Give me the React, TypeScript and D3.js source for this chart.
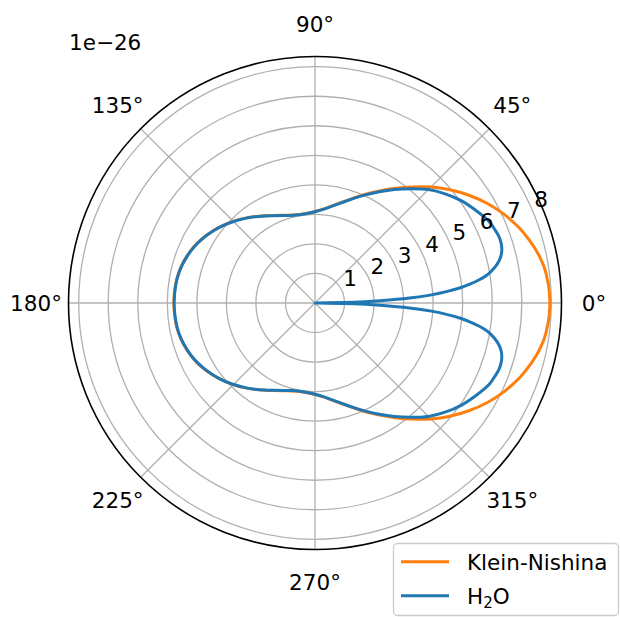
import { useEffect, useRef } from "react";
import * as d3 from "d3";

// scattering angle in degrees (the lower half is the mirror image)
const angles = [
  0, 1, 2, 3, 4, 5, 6, 7, 8, 9, 10, 12, 14, 16, 18, 20, 22, 25, 30, 35, 40, 45,
  50, 55, 60, 65, 70, 75, 80, 85, 90, 95, 100, 105, 110, 115, 120, 125, 130,
  135, 140, 145, 150, 155, 160, 165, 170, 175, 180,
];

// differential cross section, units of 1e-26
const kleinNishina = [
  7.95, 7.95, 7.94, 7.94, 7.93, 7.92, 7.9, 7.89, 7.87, 7.85, 7.82, 7.75, 7.67,
  7.58, 7.48, 7.38, 7.26, 7.08, 6.74, 6.36, 5.96, 5.55, 5.13, 4.74, 4.38, 4.06,
  3.77, 3.53, 3.34, 3.19, 3.1, 3.05, 3.04, 3.08, 3.16, 3.27, 3.41, 3.57, 3.74,
  3.91, 4.08, 4.24, 4.39, 4.52, 4.62, 4.7, 4.75, 4.77, 4.78,
];

const water = [
  0, 1.3, 2.2, 3.2, 3.95, 4.5, 4.95, 5.3, 5.6, 5.85, 6.03, 6.3, 6.48, 6.58,
  6.62, 6.62, 6.58, 6.51, 6.28, 6.04, 5.75, 5.43, 5.05, 4.69, 4.35, 4.04, 3.76,
  3.52, 3.33, 3.18, 3.09, 3.04, 3.03, 3.07, 3.15, 3.26, 3.4, 3.56, 3.73, 3.9,
  4.07, 4.23, 4.38, 4.51, 4.61, 4.69, 4.74, 4.76, 4.77,
];

const radialTicks = [1, 2, 3, 4, 5, 6, 7, 8];
const angleTicks = [0, 45, 90, 135, 180, 225, 270, 315];

const App = () => {
  const svgRef = useRef<SVGSVGElement>(null);

  useEffect(() => {
    const width = 620;
    const height = 617;
    const cx = 315;
    const cy = 303;
    const outer = 246.5;
    const rMax = 8.345;
    const font = "DejaVu Sans, sans-serif";
    const fs = 21.5;
    const rad = Math.PI / 180;

    const svg = d3
      .select(svgRef.current)
      .attr("width", width)
      .attr("height", height);
    svg.selectAll("*").remove();

    svg
      .append("rect")
      .attr("width", width)
      .attr("height", height)
      .attr("fill", "#ffffff");

    const r = d3.scaleLinear().domain([0, rMax]).range([0, outer]);
    const g = svg.append("g").attr("transform", `translate(${cx},${cy})`);

    // grid
    g.selectAll(".ring")
      .data(radialTicks)
      .enter()
      .append("circle")
      .attr("r", (d) => r(d))
      .attr("fill", "none")
      .attr("stroke", "#b0b0b0")
      .attr("stroke-width", 1.3);

    g.selectAll(".spoke")
      .data(angleTicks)
      .enter()
      .append("line")
      .attr("x1", 0)
      .attr("y1", 0)
      .attr("x2", (d) => outer * Math.cos(d * rad))
      .attr("y2", (d) => -outer * Math.sin(d * rad))
      .attr("stroke", "#b0b0b0")
      .attr("stroke-width", 1.3);

    // mirror 0..180 onto -180..180
    const fullCurve = (vals: number[]) => {
      const pts: [number, number][] = [];
      for (let i = angles.length - 1; i > 0; i--) pts.push([-angles[i], vals[i]]);
      for (let i = 0; i < angles.length; i++) pts.push([angles[i], vals[i]]);
      return pts;
    };

    const line = d3
      .lineRadial<[number, number]>()
      .angle((d) => Math.PI / 2 - d[0] * rad)
      .radius((d) => r(d[1]))
      .curve(d3.curveCatmullRom.alpha(0.5));

    g.append("path")
      .attr("d", line(fullCurve(kleinNishina)))
      .attr("fill", "none")
      .attr("stroke", "#ff7f0e")
      .attr("stroke-width", 3)
      .attr("stroke-linejoin", "round");

    g.append("path")
      .attr("d", line(fullCurve(water)))
      .attr("fill", "none")
      .attr("stroke", "#1f77b4")
      .attr("stroke-width", 3)
      .attr("stroke-linejoin", "round");

    // outer spine
    g.append("circle")
      .attr("r", outer)
      .attr("fill", "none")
      .attr("stroke", "#000000")
      .attr("stroke-width", 1.6);

    // radial tick labels along 22.5 deg
    g.selectAll(".rlabel")
      .data(radialTicks)
      .enter()
      .append("text")
      .attr("x", (d) => r(d) * Math.cos(22.5 * rad) + 1)
      .attr("y", (d) => -r(d) * Math.sin(22.5 * rad) - 6)
      .attr("font-family", font)
      .attr("font-size", fs)
      .attr("fill", "#000")
      .text((d) => d);

    // angular labels
    const labelR = 279;
    g.selectAll(".alabel")
      .data(angleTicks)
      .enter()
      .append("text")
      .attr("x", (d) => labelR * Math.cos(d * rad))
      .attr("y", (d) => -labelR * Math.sin(d * rad) + 0.36 * fs)
      .attr("text-anchor", "middle")
      .attr("font-family", font)
      .attr("font-size", fs)
      .attr("fill", "#000")
      .text((d) => `${d}°`);

    // offset text
    svg
      .append("text")
      .attr("x", 69)
      .attr("y", 49.5)
      .attr("font-family", font)
      .attr("font-size", fs)
      .attr("fill", "#000")
      .text("1e\u221226");

    // legend
    const lg = svg.append("g");
    lg.append("rect")
      .attr("x", 393.5)
      .attr("y", 543.5)
      .attr("width", 225)
      .attr("height", 72)
      .attr("rx", 4)
      .attr("fill", "#ffffff")
      .attr("fill-opacity", 0.8)
      .attr("stroke", "#cccccc")
      .attr("stroke-width", 1.3);

    const entries = [
      { label: "Klein-Nishina", color: "#ff7f0e", y: 561.7 },
      { label: "H2O", color: "#1f77b4", y: 595.7 },
    ];
    entries.forEach((e) => {
      lg.append("line")
        .attr("x1", 401)
        .attr("x2", 449)
        .attr("y1", e.y)
        .attr("y2", e.y)
        .attr("stroke", e.color)
        .attr("stroke-width", 3);
      const t = lg
        .append("text")
        .attr("x", 467)
        .attr("y", e.y + 7.8)
        .attr("font-family", font)
        .attr("font-size", fs)
        .attr("fill", "#000");
      if (e.label === "H2O") {
        t.append("tspan").text("H");
        t.append("tspan").attr("font-size", fs * 0.7).attr("dy", 4).text("2");
        t.append("tspan").attr("dy", -4).text("O");
      } else {
        t.text(e.label);
      }
    });
  }, []);

  return (
    <svg
      ref={svgRef}
      style={{ position: "absolute", left: 0, top: 0, display: "block" }}
    />
  );
};

export default App;
